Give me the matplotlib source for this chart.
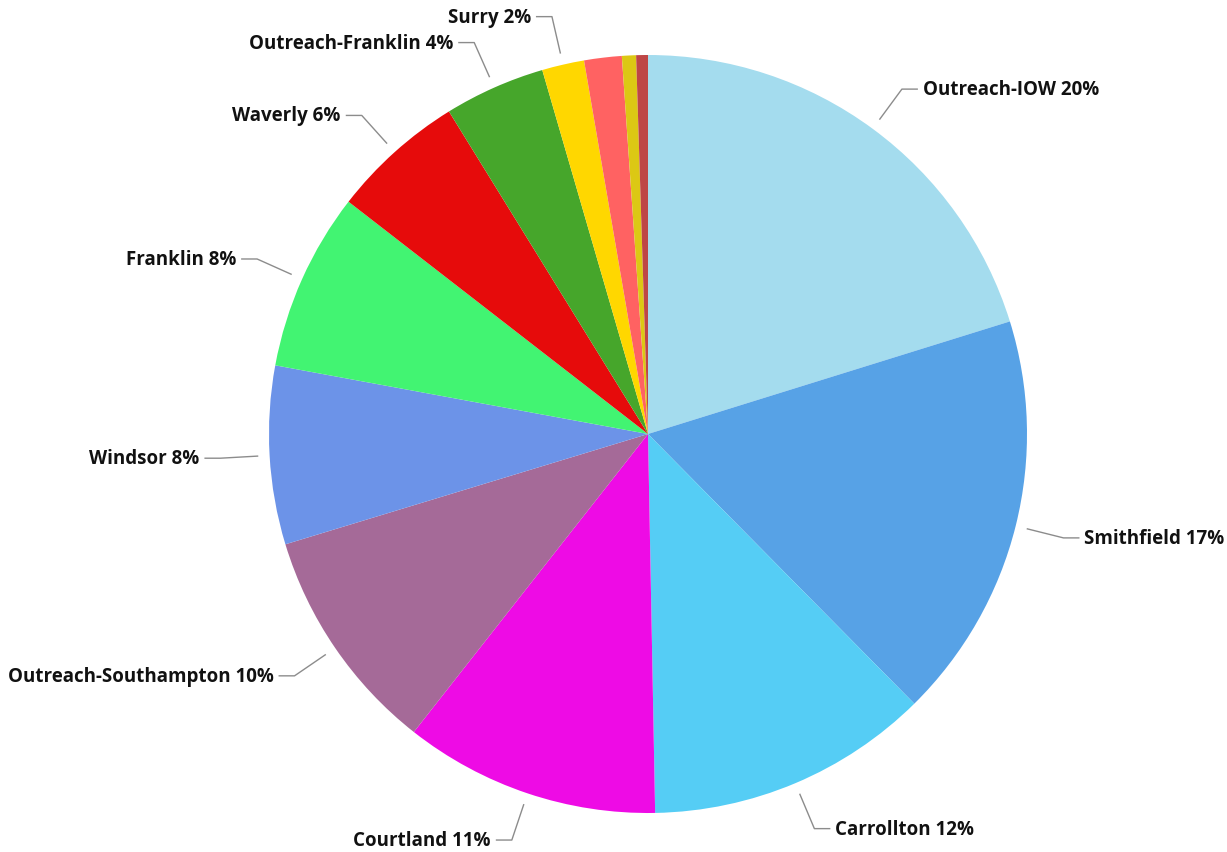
import numpy as np
import matplotlib
matplotlib.use("Agg")
import matplotlib.pyplot as plt

labels = ["Outreach-IOW", "Smithfield", "Carrollton", "Courtland", "Outreach-Southampton",
          "Windsor", "Franklin", "Waverly", "Outreach-Franklin", "Surry", "", "", ""]
values = [20.2, 17.4, 12.1, 10.9, 9.7, 7.6, 7.6, 5.7, 4.3, 1.8, 1.6, 0.6, 0.5]
pct_text = ["20%", "17%", "12%", "11%", "10%", "8%", "8%", "6%", "4%", "2%", "", "", ""]
colors = ["#A4DCEE", "#57A2E6", "#55CDF5", "#EE0BE5", "#A56A98", "#6C93E8", "#42F472",
          "#E60B0B", "#46A62B", "#FFD700", "#FF6262", "#DCC814", "#BE4646"]

W, H = 1227, 853
fig = plt.figure(figsize=(W / 100, H / 100), dpi=100)
ax = fig.add_axes([0, 0, 1, 1])

cx, cy, R = 648, H - 435, 379
wedges, _ = ax.pie(values, colors=colors, startangle=90, counterclock=False,
                   center=(cx, cy), radius=R, frame=True,
                   wedgeprops=dict(linewidth=0))
ax.set_xlim(0, W)
ax.set_ylim(0, H)
ax.axis("off")

total = sum(values)
cum = 0
for lab, v, p in zip(labels, values, pct_text):
    mid = (cum + v / 2) / total * 2 * np.pi
    cum += v
    if not lab:
        continue
    sx, sy = np.sin(mid), np.cos(mid)
    x0, y0 = cx + R * 1.03 * sx, cy + R * 1.03 * sy
    x1, y1 = cx + R * 1.13 * sx, cy + R * 1.13 * sy
    d = 1 if sx >= 0 else -1
    x2 = x1 + d * 16
    ax.plot([x0, x1, x2], [y0, y1, y1], color="#8c8c8c", lw=1.0, solid_capstyle="butt")
    ax.text(x2 + d * 5, y1, f"{lab} {p}", ha="left" if d > 0 else "right", va="center",
            fontsize=13.5, fontweight="bold", family="Open Sans", color="#111111")

fig.savefig("out.png", dpi=100, facecolor="white")
